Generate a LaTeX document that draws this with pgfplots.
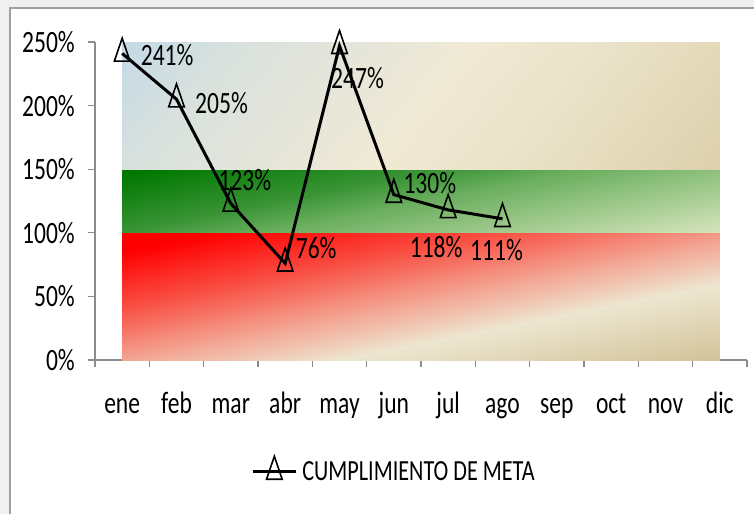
\documentclass[border=0pt]{standalone}
\usepackage{fontspec}
\setmainfont{Carlito}[FakeStretch=0.76]
\usepackage{pgfplots}
\pgfplotsset{compat=1.18}
\usepackage{pgfplotstable}

\definecolor{rA}{HTML}{FF0000}
\definecolor{rB}{HTML}{F85246}
\definecolor{rC}{HTML}{F3A290}
\definecolor{rD}{HTML}{F0C6B2}
\definecolor{rE}{HTML}{EDE6D0}
\definecolor{rF}{HTML}{D2C298}
\definecolor{gA}{HTML}{007800}
\definecolor{gB}{HTML}{3A9436}
\definecolor{gC}{HTML}{6AAE5E}
\definecolor{gD}{HTML}{8CC07C}
\definecolor{gE}{HTML}{D6E4BC}
\definecolor{bA}{HTML}{C6DAE5}
\definecolor{bB}{HTML}{D8E1DD}
\definecolor{bC}{HTML}{E3E4DA}
\definecolor{bD}{HTML}{F0EAD6}
\definecolor{bE}{HTML}{EAE2C8}
\definecolor{bF}{HTML}{E4DABA}
\definecolor{bG}{HTML}{DCCFAC}
\definecolor{frame}{HTML}{A0A0A0}
\definecolor{strip}{HTML}{F0F0F0}
\definecolor{axgray}{HTML}{8C8C8C}

\pgfdeclarehorizontalshading{redsh}{100bp}{color(0bp)=(rA); color(41.5bp)=(rA); color(46.2bp)=(rB); color(50.2bp)=(rC); color(52.2bp)=(rD); color(53.9bp)=(rE); color(60.1bp)=(rF); color(100bp)=(rF)}
\pgfdeclarehorizontalshading{greensh}{100bp}{color(0bp)=(gA); color(43bp)=(gA); color(47.7bp)=(gB); color(50bp)=(gC); color(52.3bp)=(gD); color(57.5bp)=(gE); color(100bp)=(gE)}
\pgfdeclarehorizontalshading{bluesh}{100bp}{color(0bp)=(bA); color(28bp)=(bA); color(34.5bp)=(bB); color(41.5bp)=(bC); color(50bp)=(bD); color(59.1bp)=(bE); color(66.1bp)=(bF); color(72.8bp)=(bG); color(100bp)=(bG)}

\newcommand\mysize{\fontsize{31}{34}\selectfont}
\newcommand\legsize{\fontsize{29.2}{32}\selectfont}

\pgfplotstableread{
x y dx dy
0 241 45 -2
1 205 45 -4
2 123 14 23
3 76 31 15
4 247 18 -32
5 130 36 12
6 118 -12 -37
7 111 -6 -31
}\datatable

\begin{document}
\begin{tikzpicture}
\useasboundingbox (0,0) rectangle (754pt,514pt);
\fill[strip] (0,0) rectangle (10pt,514pt);
\fill[strip] (0,506pt) rectangle (754pt,514pt);
\draw[frame, line width=1.5pt] (10pt,0) -- (10pt,506pt) -- (754pt,506pt);
\begin{axis}[
  at={(95pt,154pt)}, anchor=south west,
  scale only axis, width=652pt, height=318pt,
  xmin=-0.5, xmax=11.5, ymin=0, ymax=250,
  clip=false,
  axis lines=left, axis line style={-, draw=axgray, line width=1.5pt},
  tick align=outside, major tick length=7pt,
  tick style={draw=axgray, line width=1.2pt},
  xtick={-0.5,0.5,...,11.5}, xticklabels={},
  extra x ticks={0,1,...,11},
  extra x tick labels={ene,feb,mar,abr,may,jun,jul,ago,sep,oct,nov,dic},
  extra x tick style={major tick length=0pt},
  xticklabel style={font=\mysize, anchor=base, yshift=-53pt},
  ytick={0,50,...,250},
  yticklabel={\pgfmathprintnumber{\tick}\%},
  yticklabel style={font=\mysize, anchor=east, inner sep=0pt, xshift=-13pt},
  /pgf/number format/assume math mode=true,
  legend style={at={(0.4586,-0.346)}, anchor=center, draw=none, fill=none, font=\legsize},
  legend image code/.code={\draw[mark repeat=2,mark phase=2,#1] plot coordinates {(0pt,0pt) (21.5pt,0pt) (43pt,0pt)};},
]
\addplot[draw=none, shade, shading=redsh, shading angle=-78.7, forget plot] coordinates {(0,0) (11,0) (11,100) (0,100)} -- cycle (0,-185.5) (11,285.5);
\addplot[draw=none, shade, shading=greensh, shading angle=-78.7, forget plot] coordinates {(0,100) (11,100) (11,150) (0,150)} -- cycle (0,-110.5) (11,360.5);
\addplot[draw=none, shade, shading=bluesh, shading angle=-39, forget plot] coordinates {(0,150) (11,150) (11,250) (0,250)} -- cycle (0,-35.5) (11,435.5);
\addplot[black, line width=3pt, mark=triangle, mark size=9pt,
  mark options={solid, line width=1.6pt, yscale=1.7, fill=none},
  visualization depends on={\thisrow{dx} \as \dx},
  visualization depends on={\thisrow{dy} \as \dy},
  point meta=explicit,
  nodes near coords={\pgfmathprintnumber{\pgfplotspointmeta}\%},
  nodes near coords style={font=\mysize, anchor=center, inner sep=0pt, xshift=\dx, yshift=\dy, text=black},
] table[x=x, y=y, meta=y] {\datatable};
\addlegendentry{\hspace{3pt}CUMPLIMIENTO DE META}
\end{axis}
\end{tikzpicture}
\end{document}
